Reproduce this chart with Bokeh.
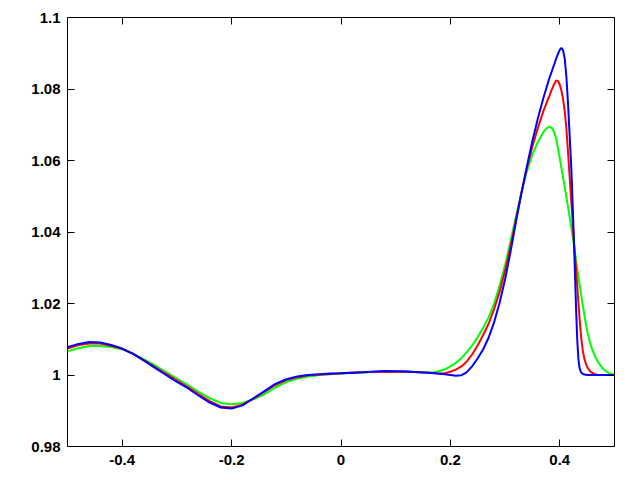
from bokeh.plotting import figure
from bokeh.models import FixedTicker, LinearAxis, Range1d
from bokeh.embed import file_html
from bokeh.resources import INLINE

# ---- data ----
green_x = [-0.5, -0.48, -0.46, -0.44, -0.42, -0.40, -0.38, -0.36, -0.34, -0.32, -0.30, -0.28, -0.26, -0.24,
           -0.22, -0.20, -0.18, -0.16, -0.14, -0.12, -0.10, -0.08, -0.06, -0.04, 0.0, 0.04, 0.08, 0.12, 0.16,
           0.17, 0.18, 0.19, 0.20, 0.21, 0.22, 0.23, 0.24, 0.25, 0.26, 0.27, 0.28, 0.29, 0.30, 0.31, 0.32,
           0.33, 0.34, 0.35, 0.36, 0.37, 0.376, 0.381, 0.386, 0.390, 0.394, 0.398, 0.402, 0.406, 0.410,
           0.414, 0.418, 0.422, 0.426, 0.430, 0.434, 0.438, 0.442, 0.446, 0.450, 0.455, 0.460, 0.466,
           0.472, 0.478, 0.485, 0.492, 0.5]
green_y = [1.0066, 1.0075, 1.0081, 1.0081, 1.0078, 1.0072, 1.0060, 1.0044, 1.0027, 1.0008, 0.9990, 0.9972,
           0.9952, 0.9935, 0.9922, 0.9918, 0.9922, 0.9932, 0.9946, 0.9965, 0.9980, 0.9990, 0.9996, 1.0000,
           1.0004, 1.0007, 1.0009, 1.0009, 1.0007,
           1.0008, 1.0011, 1.0016, 1.0024, 1.0034, 1.0047, 1.0064, 1.0083, 1.0106, 1.0132, 1.0162, 1.0200,
           1.0250, 1.0308, 1.0375, 1.0445, 1.0512, 1.0570, 1.0617, 1.0652, 1.0680, 1.0690, 1.0695, 1.0690,
           1.0678, 1.0657, 1.0622, 1.0588, 1.0553, 1.0517, 1.0480, 1.0442, 1.0403, 1.0362, 1.0318, 1.0275,
           1.0235, 1.0195, 1.0158, 1.0124, 1.0092, 1.0068, 1.0047, 1.0031, 1.0019, 1.0010, 1.0004, 1.0000]

red_x = [-0.5, -0.48, -0.46, -0.44, -0.42, -0.40, -0.38, -0.36, -0.34, -0.32, -0.30, -0.28, -0.26, -0.24,
         -0.22, -0.20, -0.18, -0.16, -0.14, -0.12, -0.10, -0.08, -0.06, -0.04, -0.02, 0.0, 0.04, 0.08, 0.12,
         0.16, 0.18, 0.19, 0.20, 0.21, 0.22, 0.23, 0.24, 0.25, 0.26, 0.27, 0.28, 0.29, 0.30, 0.31, 0.32,
         0.33, 0.34, 0.35, 0.36, 0.37, 0.38, 0.385, 0.39, 0.3935, 0.397, 0.400, 0.403, 0.406, 0.409,
         0.412, 0.415, 0.418, 0.421, 0.424, 0.427, 0.430, 0.433, 0.436, 0.439, 0.442, 0.445, 0.448,
         0.452, 0.457, 0.463, 0.470, 0.5]
red_y = [1.0074, 1.0084, 1.0088, 1.0088, 1.0082, 1.0073, 1.0059, 1.0041, 1.0022, 1.0003, 0.9984, 0.9966,
         0.9946, 0.9927, 0.9912, 0.9909, 0.9917, 0.9934, 0.9953, 0.9972, 0.9986, 0.9994, 0.9999, 1.0001,
         1.0003, 1.0005, 1.0008, 1.0010, 1.0009, 1.0006,
         1.0004, 1.0005, 1.0009, 1.0015, 1.0024, 1.0038, 1.0058, 1.0083, 1.0112, 1.0144, 1.0185, 1.0233,
         1.0292, 1.0360, 1.0435, 1.0510, 1.0580, 1.0640, 1.0692, 1.0738, 1.0777, 1.0797, 1.0815, 1.0824,
         1.0822, 1.0812, 1.0795, 1.0772, 1.0738, 1.0690, 1.0625, 1.0555, 1.0485, 1.0415, 1.0350, 1.0290,
         1.0225, 1.0160, 1.0105, 1.0068, 1.0045, 1.0030, 1.0017, 1.0008, 1.0003, 1.0000, 1.0000]

blue_x = [-0.5, -0.48, -0.46, -0.44, -0.42, -0.40, -0.38, -0.36, -0.34, -0.32, -0.30, -0.28, -0.26, -0.24,
          -0.22, -0.20, -0.18, -0.16, -0.14, -0.12, -0.10, -0.08, -0.06, -0.04, -0.02, 0.0, 0.04, 0.08,
          0.12, 0.16, 0.19, 0.20, 0.21, 0.22, 0.23, 0.24, 0.25, 0.26, 0.27, 0.28, 0.29, 0.30, 0.31, 0.32,
          0.33, 0.34, 0.35, 0.36, 0.37, 0.38, 0.39, 0.395, 0.40, 0.403, 0.406, 0.409, 0.412, 0.415, 0.418,
          0.421, 0.424, 0.427, 0.430, 0.432, 0.434, 0.436, 0.439, 0.443, 0.45, 0.5]
blue_y = [1.0078, 1.0087, 1.0092, 1.0091, 1.0084, 1.0074, 1.0059, 1.0040, 1.0020, 1.0000, 0.9981, 0.9963,
          0.9942, 0.9923, 0.9909, 0.9906, 0.9915, 0.9935, 0.9955, 0.9975, 0.9988, 0.9996, 1.0000, 1.0002,
          1.0004, 1.0005, 1.0008, 1.0011, 1.0010, 1.0006, 1.0002,
          1.0000, 0.9998, 0.9999, 1.0008, 1.0025, 1.0047, 1.0072, 1.0105, 1.0148, 1.0202, 1.0268, 1.0345,
          1.0430, 1.0510, 1.0585, 1.0655, 1.0718, 1.0775, 1.0826, 1.0870, 1.0892, 1.0910, 1.0915, 1.0908,
          1.0885, 1.0835, 1.0760, 1.0670, 1.0580, 1.0455, 1.0320, 1.0175, 1.0095, 1.0045, 1.0020, 1.0007,
          1.0002, 1.0000, 1.0000]

x_ticks = [-0.4, -0.2, 0.0, 0.2, 0.4]
x_labels = ["-0.4", "-0.2", "0", "0.2", "0.4"]
y_ticks = [0.98, 1.0, 1.02, 1.04, 1.06, 1.08, 1.1]
y_labels = ["0.98", "1", "1.02", "1.04", "1.06", "1.08", "1.1"]

FONT = "Liberation Sans"

p = figure(width=632, height=472, output_backend="svg", toolbar_location=None,
           x_range=Range1d(-0.5, 0.5), y_range=Range1d(0.98, 1.1),
           min_border_left=67, min_border_right=18, min_border_top=17, min_border_bottom=26)
p.grid.visible = False
p.outline_line_color = "black"
p.outline_line_width = 1
p.background_fill_color = "white"
p.border_fill_color = "white"

def style(ax, ticks, labels, show):
    ax.ticker = FixedTicker(ticks=ticks)
    ax.major_tick_in = 7
    ax.major_tick_out = 0
    ax.major_tick_line_color = "black"
    ax.minor_tick_line_color = None
    ax.axis_line_color = None
    if show:
        ax.major_label_overrides = {t: l for t, l in zip(ticks, labels)}
        ax.major_label_text_font = FONT
        ax.major_label_text_font_style = "bold"
        ax.major_label_text_color = "black"
        ax.major_label_text_font_size = "15px"
    else:
        # mirror axis: tick marks only, no labels drawn
        ax.major_label_text_color = None
        ax.major_label_text_font_size = "0px"
        ax.major_label_standoff = 0

style(p.xaxis[0], x_ticks, x_labels, True)
style(p.yaxis[0], y_ticks, y_labels, True)
p.xaxis[0].major_label_standoff = 8
p.yaxis[0].major_label_standoff = 7

top = LinearAxis()
right = LinearAxis()
style(top, x_ticks, x_labels, False)
style(right, y_ticks, y_labels, False)
p.add_layout(top, "above")
p.add_layout(right, "right")

p.line(green_x, green_y, line_color="#00ff00", line_width=2)
p.line(red_x, red_y, line_color="#ff0000", line_width=2)
p.line(blue_x, blue_y, line_color="#0000ff", line_width=2)

open("out.html", "w").write(file_html(p, INLINE))
